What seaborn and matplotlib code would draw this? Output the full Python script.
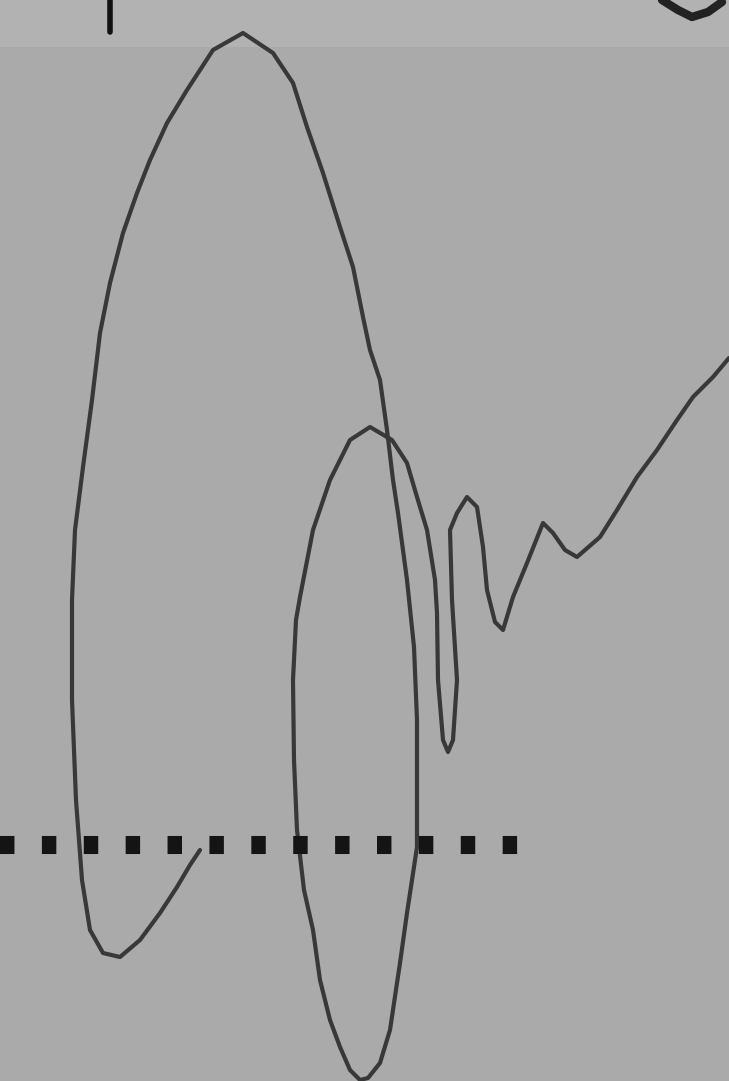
import matplotlib
matplotlib.use("Agg")
import matplotlib.pyplot as plt
import seaborn as sns
import pandas as pd

# curve (x right, y down)
curve_x = [200, 190, 177, 160, 140, 120, 103, 90, 82, 76, 72, 72, 75, 83, 92, 100, 110,
           123, 137, 150, 167, 187, 213, 243, 273, 293, 307, 323, 340, 353, 363, 370, 380,
           387, 393, 398, 407, 414, 417, 417, 417, 407, 400, 390, 380, 368, 360, 350, 340,
           330, 320, 313, 304, 297, 294, 293, 296, 300, 313, 330, 350, 370, 392, 407, 417,
           427, 435, 437, 438, 443, 448, 453, 457, 452, 450, 457, 467, 477, 483, 487, 495,
           503, 513, 527, 543, 553, 565, 577, 600, 617, 637, 657, 677, 693, 713, 729]
curve_y = [850, 865, 887, 913, 940, 957, 953, 930, 880, 800, 700, 600, 530, 467, 400, 333, 283,
           233, 193, 160, 123, 90, 50, 33, 53, 83, 127, 173, 227, 267, 317, 350, 380,
           430, 480, 513, 580, 647, 720, 780, 847, 913, 963, 1030, 1063, 1078, 1080, 1070, 1047,
           1020, 980, 930, 890, 830, 760, 680, 620, 597, 530, 480, 440, 427, 440, 463, 497,
           530, 580, 613, 680, 740, 752, 740, 680, 600, 530, 513, 497, 507, 547, 590, 622,
           630, 597, 563, 523, 533, 550, 557, 537, 510, 477, 450, 420, 397, 377, 358]

dots_x = [0, 520]
dots_y = [845, 845]

tick_x = [110, 110]
tick_y = [0, 32]

corner_x = [662, 678, 692, 708, 722]
corner_y = [0, 10, 17, 12, 2]

bg = "#aaaaaa"
sns.set_style("white")
fig = plt.figure(figsize=(7.29, 10.81), dpi=100, facecolor=bg)
ax = fig.add_axes([0, 0, 1, 1])
ax.set_facecolor(bg)

# lighter noisy band at the very top
ax.axhspan(0, 47, color="#b2b2b2", lw=0, zorder=0)

df = pd.DataFrame({"x": curve_x, "y": curve_y})
sns.lineplot(data=df, x="x", y="y", sort=False, estimator=None,
             color="#383838", linewidth=3.0, ax=ax)

sns.lineplot(x=dots_x, y=dots_y, sort=False, estimator=None, color="#141414",
             linewidth=13, ax=ax, linestyle=(0, (0.8, 1.52)), dash_capstyle="butt")

sns.lineplot(x=tick_x, y=tick_y, sort=False, estimator=None, color="#111111",
             linewidth=4, ax=ax)
sns.lineplot(x=corner_x, y=corner_y, sort=False, estimator=None, color="#222222",
             linewidth=6, ax=ax)

ax.set_xlim(0, 729)
ax.set_ylim(1081, 0)
ax.set_axis_off()

fig.savefig("out.png", dpi=100, facecolor=bg)
